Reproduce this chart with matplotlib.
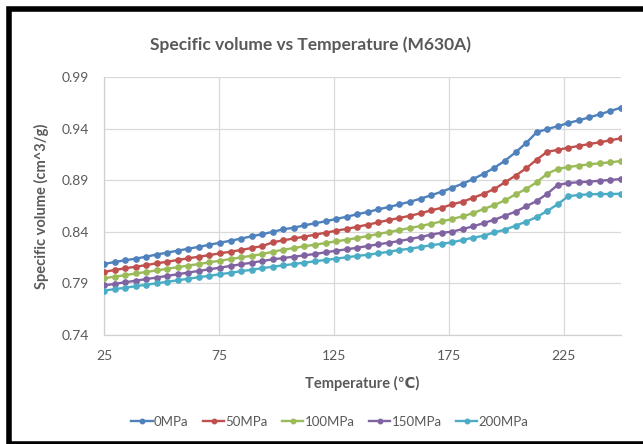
import matplotlib
matplotlib.use("Agg")
import matplotlib.pyplot as plt

# temperatures (50 readings from 25 to 250 C)
temperature = [25.0, 29.6, 34.2, 38.8, 43.4, 48.0, 52.6, 57.1, 61.7, 66.3,
               70.9, 75.5, 80.1, 84.7, 89.3, 93.9, 98.5, 103.1, 107.7, 112.2,
               116.8, 121.4, 126.0, 130.6, 135.2, 139.8, 144.4, 149.0, 153.6, 158.2,
               162.8, 167.3, 171.9, 176.5, 181.1, 185.7, 190.3, 194.9, 199.5, 204.1,
               208.7, 213.3, 217.9, 222.4, 227.0, 231.6, 236.2, 240.8, 245.4, 250.0]

v_0mpa = [0.8088, 0.8107, 0.8124, 0.8140, 0.8159, 0.8180, 0.8199, 0.8217, 0.8236, 0.8254,
          0.8275, 0.8294, 0.8314, 0.8334, 0.8357, 0.8377, 0.8400, 0.8424, 0.8440, 0.8463,
          0.8482, 0.8502, 0.8524, 0.8546, 0.8570, 0.8592, 0.8618, 0.8640, 0.8666, 0.8692,
          0.8721, 0.8754, 0.8788, 0.8827, 0.8866, 0.8912, 0.8963, 0.9021, 0.9089, 0.9170,
          0.9260, 0.9364, 0.9396, 0.9422, 0.9454, 0.9480, 0.9509, 0.9539, 0.9571, 0.9603]

v_50mpa = [0.8011, 0.8030, 0.8046, 0.8062, 0.8077, 0.8095, 0.8110, 0.8127, 0.8143, 0.8159,
           0.8174, 0.8192, 0.8207, 0.8224, 0.8243, 0.8262, 0.8298, 0.8318, 0.8336, 0.8353,
           0.8372, 0.8391, 0.8411, 0.8428, 0.8449, 0.8469, 0.8492, 0.8514, 0.8534, 0.8556,
           0.8579, 0.8608, 0.8632, 0.8666, 0.8692, 0.8730, 0.8769, 0.8815, 0.8880, 0.8944,
           0.9015, 0.9099, 0.9176, 0.9193, 0.9215, 0.9231, 0.9251, 0.9267, 0.9287, 0.9306]

v_100mpa = [0.7950, 0.7965, 0.7980, 0.7996, 0.8011, 0.8026, 0.8042, 0.8057, 0.8073, 0.8088,
            0.8104, 0.8120, 0.8136, 0.8152, 0.8168, 0.8184, 0.8208, 0.8226, 0.8243, 0.8260,
            0.8275, 0.8291, 0.8308, 0.8323, 0.8340, 0.8359, 0.8379, 0.8398, 0.8417, 0.8437,
            0.8456, 0.8478, 0.8500, 0.8524, 0.8550, 0.8582, 0.8621, 0.8660, 0.8705, 0.8763,
            0.8815, 0.8880, 0.8963, 0.9009, 0.9028, 0.9041, 0.9054, 0.9064, 0.9073, 0.9086]

v_150mpa = [0.7880, 0.7895, 0.7911, 0.7926, 0.7942, 0.7957, 0.7973, 0.7989, 0.8005, 0.8021,
            0.8037, 0.8053, 0.8069, 0.8085, 0.8101, 0.8117, 0.8133, 0.8146, 0.8159, 0.8172,
            0.8185, 0.8201, 0.8217, 0.8230, 0.8246, 0.8262, 0.8279, 0.8294, 0.8311, 0.8330,
            0.8350, 0.8372, 0.8390, 0.8401, 0.8427, 0.8453, 0.8485, 0.8517, 0.8556, 0.8595,
            0.8647, 0.8698, 0.8769, 0.8853, 0.8873, 0.8880, 0.8886, 0.8895, 0.8902, 0.8912]

v_200mpa = [0.7830, 0.7844, 0.7858, 0.7873, 0.7887, 0.7901, 0.7916, 0.7930, 0.7945, 0.7960,
            0.7974, 0.7989, 0.8003, 0.8018, 0.8033, 0.8047, 0.8062, 0.8075, 0.8088, 0.8101,
            0.8114, 0.8127, 0.8140, 0.8153, 0.8166, 0.8178, 0.8192, 0.8207, 0.8224, 0.8236,
            0.8253, 0.8269, 0.8284, 0.8298, 0.8321, 0.8343, 0.8362, 0.8395, 0.8420, 0.8459,
            0.8498, 0.8543, 0.8602, 0.8666, 0.8744, 0.8757, 0.8763, 0.8766, 0.8766, 0.8769]

labels = ["0MPa", "50MPa", "100MPa", "150MPa", "200MPa"]
colors = ["#4F81BD", "#C0504D", "#9BBB59", "#8064A2", "#4BACC6"]
x_ticks = [25, 75, 125, 175, 225]
y_ticks = [0.74, 0.79, 0.84, 0.89, 0.94, 0.99]

plt.rcParams["font.family"] = ["Lato", "DejaVu Sans"]
grey = "#595959"

fig = plt.figure(figsize=(6.43, 4.44), dpi=100)
ax = fig.add_axes([104 / 643, 1 - 335 / 444, (621 - 104) / 643, (335 - 77) / 444])

series = [v_0mpa, v_50mpa, v_100mpa, v_150mpa, v_200mpa]
for vals, lab, col in zip(series, labels, colors):
    ax.plot(temperature, vals, color=col, lw=1.7, marker="o", ms=3.8,
            label=lab, zorder=3)

ax.set_xlim(25, 250)
ax.set_ylim(0.74, 0.99)
ax.set_xticks(x_ticks)
ax.set_yticks(y_ticks)
ax.set_xticklabels([str(t) for t in x_ticks])
ax.set_yticklabels([f"{t:.2f}" for t in y_ticks])
ax.tick_params(length=0, labelsize=10, labelcolor=grey)
ax.tick_params(axis="x", pad=11)
ax.tick_params(axis="y", pad=11)
ax.grid(True, color="#D9D9D9", lw=0.9)
ax.set_axisbelow(True)
for side in ["top", "right"]:
    ax.spines[side].set_visible(False)
for side in ["left", "bottom"]:
    ax.spines[side].set_color("#D0D0D0")
    ax.spines[side].set_linewidth(0.9)

ax.set_xlabel("Temperature (\u2103)", fontsize=10.5, fontweight="bold",
              color=grey, labelpad=10)
ax.set_ylabel("Specific volume (cm^3/g)", fontsize=10.5, fontweight="bold",
              color=grey, labelpad=9)
fig.text(310 / 643, 1 - 45 / 444, "Specific volume vs Temperature (M630A)",
         ha="center", va="center", fontsize=12.5, fontweight="bold", color=grey)

leg = fig.legend(loc="center", bbox_to_anchor=(330 / 643, 1 - 422 / 444), ncol=5,
                 frameon=False, fontsize=9.5, labelcolor=grey, handlelength=1.6,
                 handletextpad=0.1, columnspacing=1.1, markerscale=0.85)

# black frame around the chart (right side is cut off in the original)
frame = plt.Rectangle((8.8 / 643, 0.5 / 444), 1.2, (444 - 9.5) / 444,
                      transform=fig.transFigure, fill=False, ec="black",
                      lw=4.0, clip_on=False)
fig.add_artist(frame)

fig.savefig("out.png", dpi=100)
